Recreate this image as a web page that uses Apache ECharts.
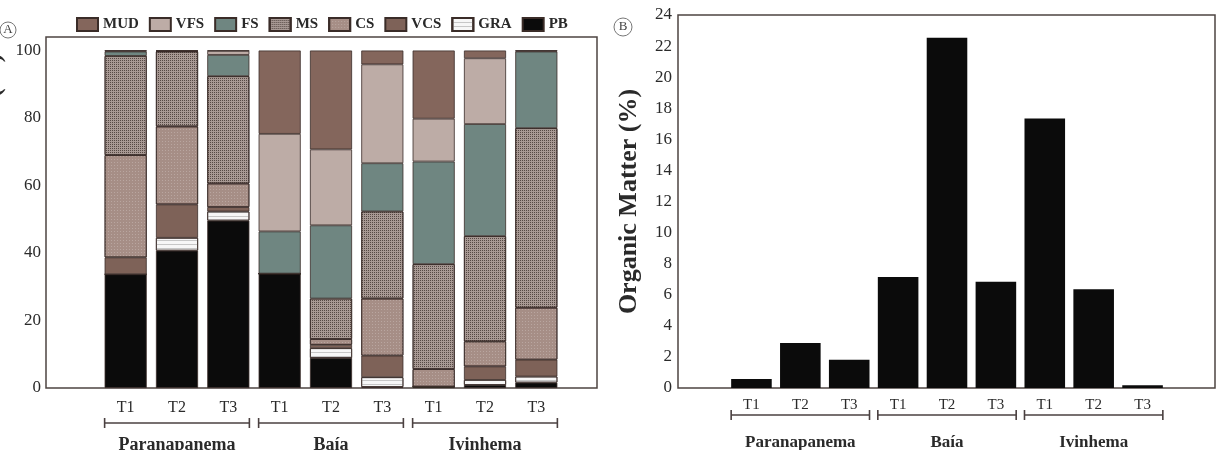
<!DOCTYPE html>
<html>
<head>
<meta charset="utf-8">
<script src="https://cdn.jsdelivr.net/npm/echarts@6/dist/echarts.min.js"></script>
<style>
html,body{margin:0;padding:0;background:#fff;}
#c{width:1227px;height:450px;}
</style>
</head>
<body>
<div id="c"></div>
<script>
// ---- data ----
const categories = ['T1','T2','T3','T1','T2','T3','T1','T2','T3'];
const groups = ['Paranapanema','Baía','Ivinhema'];
const fractionNames = ['PB','GRA','VCS','CS','MS','FS','VFS','MUD'];
const legendOrder = ['MUD','VFS','FS','MS','CS','VCS','GRA','PB'];
const PB  = [33.7, 40.7, 49.6, 33.9,  8.9,  0.3,  0.4,  0.9,  1.6];
const GRA = [ 0.0,  3.8,  2.7,  0.0,  2.9,  2.9,  0.0,  1.5,  1.8];
const VCS = [ 5.0,  9.9,  1.3,  0.0,  1.0,  6.4,  0.0,  4.0,  5.0];
const CS  = [30.3, 23.1,  7.0,  0.0,  1.7, 16.9,  5.2,  7.4, 15.4];
const MS  = [29.4, 22.2, 31.8,  0.0, 12.0, 25.8, 31.1, 31.2, 53.2];
const FS  = [ 1.3,  0.1,  6.3, 12.5, 21.7, 14.3, 30.4, 33.2, 22.7];
const VFS = [ 0.2,  0.1,  1.2, 28.9, 22.5, 29.3, 12.7, 19.5,  0.2];
const MUD = [ 0.1,  0.1,  0.1, 24.7, 29.3,  4.1, 20.2,  2.3,  0.1];
const organicMatter = [0.58, 2.89, 1.82, 7.14, 22.54, 6.84, 17.34, 6.36, 0.17];
const leftTicks = [0, 20, 40, 60, 80, 100];
const rightTicks = [0, 2, 4, 6, 8, 10, 12, 14, 16, 18, 20, 22, 24];

const fractionData = {PB, GRA, VCS, CS, MS, FS, VFS, MUD};

// ---- styles ----
const SERIF = "'Liberation Serif','Times New Roman',serif";
const TXT = '#2a2a2a';
const BORDER = '#3a2c28';
const styles = {
  PB:  {color:'#0b0b0b'},
  GRA: {color:'#f6f6f6', decal:{symbol:'rect', color:'rgba(150,150,150,0.5)', dashArrayX:[[10,0]], dashArrayY:[1,3]}},
  VCS: {color:'#7e6258'},
  CS:  {color:'#a68e86', decal:{symbol:'rect', color:'rgba(255,255,255,0.22)', dashArrayX:[1,2], dashArrayY:[1,2]}},
  MS:  {color:'#a89994', decal:{symbol:'rect', color:'rgba(50,38,34,0.7)', dashArrayX:[1,1], dashArrayY:[1,1]}},
  FS:  {color:'#6f8681'},
  VFS: {color:'#bdaca6'},
  MUD: {color:'#84665c'}
};

const chart = echarts.init(document.getElementById('c'), null, {renderer:'canvas'});

const leftSeries = fractionNames.map(n => ({
  name: n,
  type: 'bar',
  stack: 'sed',
  xAxisIndex: 1,
  yAxisIndex: 1,
  barWidth: '82%',
  data: fractionData[n],
  itemStyle: Object.assign({borderColor: BORDER, borderWidth: 0.8}, styles[n]),
  emphasis: {disabled: true}
}));

const hideAxis = {axisLine:{show:false}, axisTick:{show:false}, axisLabel:{show:false}, splitLine:{show:false}};
const gridBase = {containLabel: false, outerBoundsMode: 'none'};

const option = {
  animation: false,
  backgroundColor: '#fff',
  legend: {
    data: legendOrder,
    left: 71, top: 12,
    icon: 'rect',
    itemWidth: 21, itemHeight: 13, itemGap: 10,
    textStyle: {fontFamily: SERIF, fontWeight: 'bold', fontSize: 15, color: TXT}
  },
  grid: [
    Object.assign({left: 46, right: 630, top: 37, bottom: 62, show: true, borderColor: '#4d4442', borderWidth: 1.5, backgroundColor: 'transparent'}, gridBase),
    Object.assign({left: 100, right: 665, top: 37, bottom: 62}, gridBase),
    Object.assign({left: 678, right: 12, top: 15, bottom: 62, show: true, borderColor: '#4d4442', borderWidth: 1.5, backgroundColor: 'transparent'}, gridBase),
    Object.assign({left: 727, right: 60, top: 15, bottom: 62}, gridBase)
  ],
  xAxis: [
    {type:'value', gridIndex:0, min:0, max:1, show:false},
    {type:'category', gridIndex:1, data: categories, position:'bottom',
      axisLine:{show:false}, axisTick:{show:false},
      axisLabel:{fontFamily:SERIF, fontSize:16, color:TXT, margin:12}},
    {type:'category', gridIndex:1, data: groups, position:'bottom',
      axisLine:{show:false}, axisTick:{show:false},
      axisLabel:{fontFamily:SERIF, fontSize:18, fontWeight:'bold', color:TXT, margin:48}},
    {type:'value', gridIndex:2, min:0, max:1, show:false},
    {type:'category', gridIndex:3, data: categories, position:'bottom',
      axisLine:{show:false}, axisTick:{show:false},
      axisLabel:{fontFamily:SERIF, fontSize:15, color:TXT, margin:10}},
    {type:'category', gridIndex:3, data: groups, position:'bottom',
      axisLine:{show:false}, axisTick:{show:false},
      axisLabel:{fontFamily:SERIF, fontSize:17, fontWeight:'bold', color:TXT, margin:46}}
  ],
  yAxis: [
    {type:'value', gridIndex:0, min:0, max:104, interval:20,
      axisLine:{show:false}, axisTick:{show:false}, splitLine:{show:false},
      axisLabel:{fontFamily:SERIF, fontSize:17, color:TXT, margin:5,
        formatter: v => leftTicks.indexOf(v) >= 0 ? String(v) : ''},
      name:'Granulometric Fraction (%)', nameLocation:'middle', nameGap:40,
      nameTextStyle:{fontFamily:SERIF, fontSize:26, fontWeight:'bold', color:TXT}},
    Object.assign({type:'value', gridIndex:1, min:0, max:104}, hideAxis),
    {type:'value', gridIndex:2, min:0, max:24, interval:2,
      axisLine:{show:false}, axisTick:{show:false}, splitLine:{show:false},
      axisLabel:{fontFamily:SERIF, fontSize:17, color:TXT, margin:6,
        formatter: v => rightTicks.indexOf(v) >= 0 ? String(v) : ''},
      name:'Organic Matter (%)', nameLocation:'middle', nameGap:36,
      nameTextStyle:{fontFamily:SERIF, fontSize:26, fontWeight:'bold', color:TXT}},
    Object.assign({type:'value', gridIndex:3, min:0, max:24}, hideAxis)
  ],
  series: leftSeries.concat([{
    name: 'Organic Matter',
    type: 'bar',
    xAxisIndex: 4,
    yAxisIndex: 3,
    barWidth: '83%',
    data: organicMatter,
    itemStyle: {color: '#0b0b0b'},
    emphasis: {disabled: true}
  }])
};

chart.setOption(option);

// ---- brackets under group labels, placed from the category scales ----
function brackets(xAxisIndex, y, widthRatio) {
  const els = [];
  const p0 = chart.convertToPixel({xAxisIndex}, 0);
  const p1 = chart.convertToPixel({xAxisIndex}, 1);
  const half = (p1 - p0) * widthRatio / 2;
  for (let g = 0; g < groups.length; g++) {
    const a = chart.convertToPixel({xAxisIndex}, g * 3) - half;
    const b = chart.convertToPixel({xAxisIndex}, g * 3 + 2) + half;
    const st = {stroke: '#4a4040', lineWidth: 1.6};
    els.push({type:'line', shape:{x1:a, y1:y, x2:b, y2:y}, style:st});
    els.push({type:'line', shape:{x1:a, y1:y-5, x2:a, y2:y+5}, style:st});
    els.push({type:'line', shape:{x1:b, y1:y-5, x2:b, y2:y+5}, style:st});
  }
  return els;
}

function panelMark(cx, cy, r, letter) {
  return [
    {type:'circle', shape:{cx, cy, r}, style:{fill:'none', stroke:'#777', lineWidth:1}},
    {type:'text', x: cx, y: cy, style:{text: letter, fontFamily: SERIF, fontSize: 13, fill: '#444', align:'center', verticalAlign:'middle'}}
  ];
}

chart.setOption({
  graphic: [].concat(
    brackets(1, 423, 0.82),
    brackets(4, 415, 0.83),
    panelMark(8, 30, 8, 'A'),
    panelMark(623, 27, 9, 'B')
  )
});
</script>
</body>
</html>
